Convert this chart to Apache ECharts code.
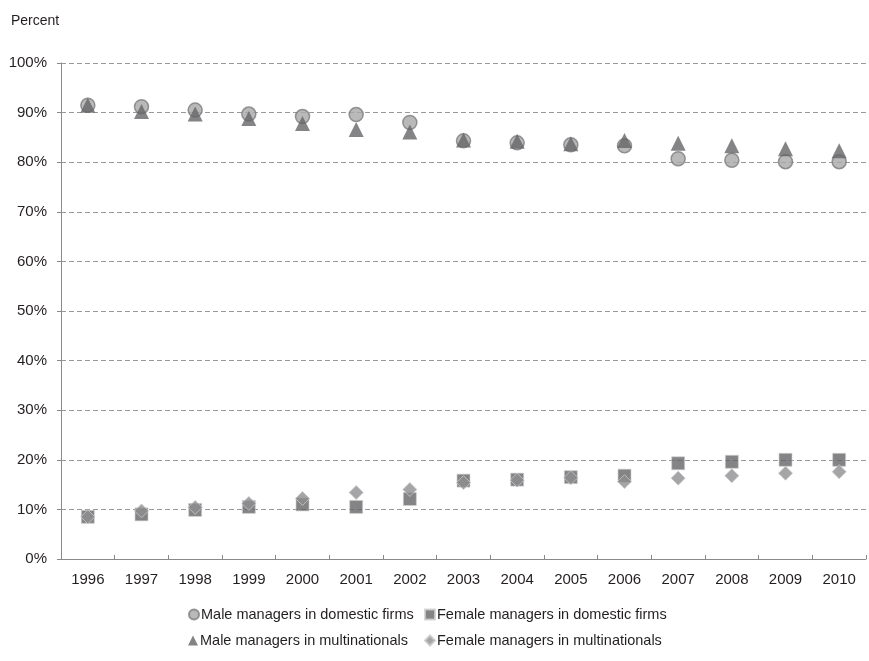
<!DOCTYPE html>
<html>
<head>
<meta charset="utf-8">
<script src="https://cdn.jsdelivr.net/npm/echarts@6/dist/echarts.min.js"></script>
<style>
  html, body { margin: 0; padding: 0; background: #fff; }
  #chart { width: 869px; height: 661px; }
</style>
</head>
<body>
<div id="chart"></div>
<script>
// data
var years = ['1996','1997','1998','1999','2000','2001','2002','2003','2004','2005','2006','2007','2008','2009','2010'];
var maleDomestic = [91.5, 91.2, 90.5, 89.7, 89.2, 89.6, 88.0, 84.3, 83.9, 83.5, 83.3, 80.7, 80.4, 80.1, 80.1];
var femaleDomestic = [8.5, 9.0, 9.9, 10.5, 11.0, 10.5, 12.1, 15.8, 16.0, 16.5, 16.8, 19.3, 19.6, 20.0, 20.0];
var maleMulti = [91.5, 90.2, 89.7, 88.8, 87.8, 86.6, 86.1, 84.5, 84.2, 83.7, 84.4, 83.8, 83.3, 82.7, 82.3];
var femaleMulti = [8.5, 9.7, 10.4, 11.2, 12.2, 13.4, 14.0, 15.4, 15.9, 16.4, 15.6, 16.3, 16.8, 17.3, 17.6];
var yTicks = [0, 10, 20, 30, 40, 50, 60, 70, 80, 90, 100];

var font = "'Liberation Sans', sans-serif";
var myChart = echarts.init(document.getElementById('chart'));

function legendAt(name, left, top) {
    return {
        data: [name], left: left, top: top, itemWidth: 10, itemHeight: 10, itemGap: 4,
        textStyle: { fontFamily: font, fontSize: 14.5, color: '#231f20', padding: [0, 0, 0, -3] },
        padding: 0
    };
}

myChart.setOption({
    animation: false,
    textStyle: { fontFamily: font },
    title: {
        text: 'Percent', left: 6, top: 9,
        textStyle: { fontFamily: font, fontSize: 14, fontWeight: 'normal', color: '#231f20' }
    },
    legend: [
        legendAt('Male managers in domestic firms', 188, 607),
        legendAt('Female managers in domestic firms', 424, 607),
        legendAt('Male managers in multinationals', 188, 633),
        legendAt('Female managers in multinationals', 424, 633)
    ],
    grid: { left: 61, right: 3, top: 63, bottom: 102 },
    xAxis: {
        type: 'category',
        data: years,
        boundaryGap: true,
        axisLine: { lineStyle: { color: '#8a8a8a', width: 1 } },
        axisTick: { show: true, inside: true, length: 4, lineStyle: { color: '#8a8a8a' } },
        axisLabel: { fontFamily: font, fontSize: 15, color: '#231f20', margin: 13 }
    },
    yAxis: {
        type: 'value',
        min: 0, max: 100, interval: 10,
        axisLine: { show: true, lineStyle: { color: '#8a8a8a', width: 1 } },
        axisTick: { show: true, length: 4, lineStyle: { color: '#8a8a8a' } },
        axisLabel: {
            fontFamily: font, fontSize: 15, color: '#231f20', margin: 14,
            formatter: function (v) { return yTicks.indexOf(v) >= 0 ? v + '%' : ''; }
        },
        splitLine: { lineStyle: { color: '#9a9a9a', type: [5, 3], width: 1 } }
    },
    series: [
        {
            name: 'Male managers in domestic firms', type: 'scatter', symbol: 'circle', symbolSize: 14,
            itemStyle: { color: '#a7a7a9', borderColor: '#7d7d80', borderWidth: 1.5 },
            data: maleDomestic
        },
        {
            name: 'Female managers in domestic firms', type: 'scatter', symbol: 'rect', symbolSize: 13,
            itemStyle: { color: '#656568', borderColor: '#d0d0d0', borderWidth: 0.8 },
            data: femaleDomestic
        },
        {
            name: 'Male managers in multinationals', type: 'scatter', symbol: 'triangle', symbolSize: 15,
            itemStyle: { color: '#656568' },
            data: maleMulti
        },
        {
            name: 'Female managers in multinationals', type: 'scatter', symbol: 'diamond', symbolSize: 14,
            itemStyle: { color: '#8f8f92', borderColor: '#c8c8c8', borderWidth: 1 },
            data: femaleMulti
        }
    ]
});
</script>
</body>
</html>
